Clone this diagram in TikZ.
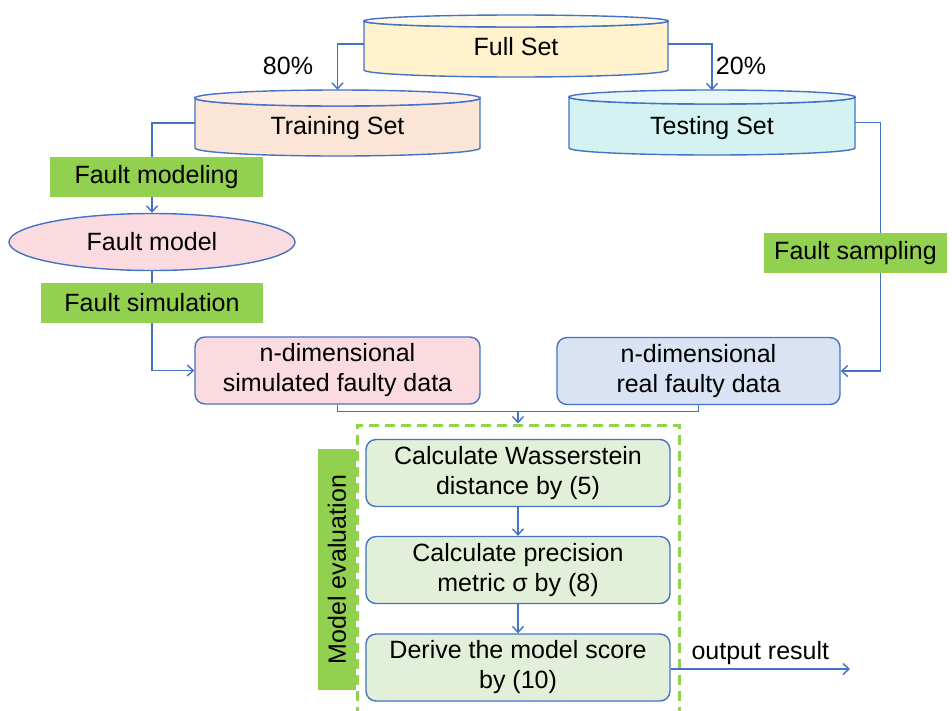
\documentclass[tikz,border=0pt]{standalone}
\usepackage{fontspec}
\setmainfont{Liberation Sans}
\usetikzlibrary{arrows.meta,shapes.geometric}

\definecolor{linkblue}{HTML}{4472C4}
\definecolor{faultgreen}{HTML}{92D050}
\definecolor{fullfill}{HTML}{FFF2CC}
\definecolor{fulltop}{HTML}{FFF8E3}
\definecolor{trainfill}{HTML}{FBE5D6}
\definecolor{traintop}{HTML}{FDEFE6}
\definecolor{testfill}{HTML}{D5F2F2}
\definecolor{testtop}{HTML}{E7F7F7}
\definecolor{pinkfill}{HTML}{F9DBE0}
\definecolor{realfill}{HTML}{DAE3F3}
\definecolor{calcfill}{HTML}{E2F0D9}

\tikzset{
  conn/.style={draw=linkblue, line width=1.4pt, -{Straight Barb[length=6pt,width=11pt]}},
  wire/.style={draw=linkblue, line width=1.4pt},
  cylbody/.style={draw=linkblue, line width=1.4pt},
  cyltext/.style={minimum height=50pt, text height=28pt, text depth=5pt, inner sep=0pt},
  greentag/.style={fill=faultgreen, minimum height=40pt, inner sep=0pt},
  databox/.style={draw=linkblue, line width=1.4pt, rounded corners=10pt, minimum width=285pt, minimum height=67pt, align=center, inner sep=0pt},
  calcbox/.style={databox, fill=calcfill, minimum width=304pt}
}

\begin{document}
\begin{tikzpicture}[x=1pt, y=-1pt, font=\fontsize{25}{30}\selectfont]
\useasboundingbox (0,0) rectangle (952,710);

% data sets
\draw[cylbody, fill=fullfill] (364,21) -- (364,70) arc[start angle=180, end angle=0, x radius=152, y radius=7] -- (668,21) arc[start angle=0, end angle=180, x radius=152, y radius=6] -- cycle;
\draw[cylbody, fill=fulltop] (516,21) ellipse[x radius=152, y radius=6];
\node[cyltext, minimum width=304pt] (full) at (516,44) {Full Set};

\draw[cylbody, fill=trainfill] (195,98) -- (195,148) arc[start angle=180, end angle=0, x radius=142.5, y radius=8] -- (480,98) arc[start angle=0, end angle=180, x radius=142.5, y radius=8] -- cycle;
\draw[cylbody, fill=traintop] (337.5,98) ellipse[x radius=142.5, y radius=8];
\node[cyltext, minimum width=285pt] (train) at (337.5,123) {Training Set};

\draw[cylbody, fill=testfill] (569,97) -- (569,148) arc[start angle=180, end angle=0, x radius=143, y radius=7] -- (855,97) arc[start angle=0, end angle=180, x radius=143, y radius=7] -- cycle;
\draw[cylbody, fill=testtop] (712,97) ellipse[x radius=143, y radius=7];
\node[cyltext, minimum width=286pt] (test) at (712,122.5) {Testing Set};

\draw[conn] (full.west) -| ([yshift=8pt]train.north);
\draw[conn] (full.east) -| ([yshift=7pt]test.north);
\node (p80) at (288,66) {80\%};
\node (p20) at (741,66) {20\%};

% fault branch
\node[ellipse, draw=linkblue, line width=1.4pt, fill=pinkfill, minimum width=286pt, minimum height=57pt, inner sep=0pt] (fmodel) at (152,242) {Fault model};
\node[databox, fill=pinkfill] (sim) at (337.5,370.5) {n-dimensional\\simulated faulty data};
\node[databox, fill=realfill, minimum width=283pt] (real) at (698.5,371) {n-dimensional\\real faulty data};

\draw[conn] (train.west) -| (fmodel.north);
\draw[conn] (fmodel.south) |- (sim.west);
\draw[conn] (test.east) -- ++(25,0) |- (real.east);

% evaluation
\node[draw=faultgreen, line width=3pt, dash pattern=on 10pt off 6pt, minimum width=322pt, minimum height=290pt, inner sep=0pt] (evalbox) at (518,570) {};
\draw[wire] (sim.south) -- ++(0,7) -| (real.south);
\draw[conn] ([yshift=-7pt]sim.south -| evalbox.north) -- (evalbox.north);

\node[calcbox] (calc1) at (518,473) {Calculate Wasserstein\\distance by (5)};
\node[calcbox] (calc2) at (518,570) {Calculate precision\\metric σ by (8)};
\node[calcbox] (calc3) at (518,667.5) {Derive the model score\\by (10)};
\draw[conn] (calc1) -- (calc2);
\draw[conn] (calc2) -- (calc3);

\coordinate (outend) at (850,669);
\draw[conn] (calc3.east |- outend) -- (outend) node[above, pos=0.5] (outlbl) {output result};

% green tags
\node[greentag, minimum width=213pt] (fmodeling) at (156.5,177) {Fault modeling};
\node[greentag, minimum width=222pt] (fsim) at (152,303) {Fault simulation};
\node[greentag, minimum width=183pt] (fsamp) at (855.5,253) {Fault sampling};
\node[greentag, minimum width=241pt, minimum height=38pt, rotate=90] (modeval) at (337,569.5) {Model evaluation};
\end{tikzpicture}
\end{document}
